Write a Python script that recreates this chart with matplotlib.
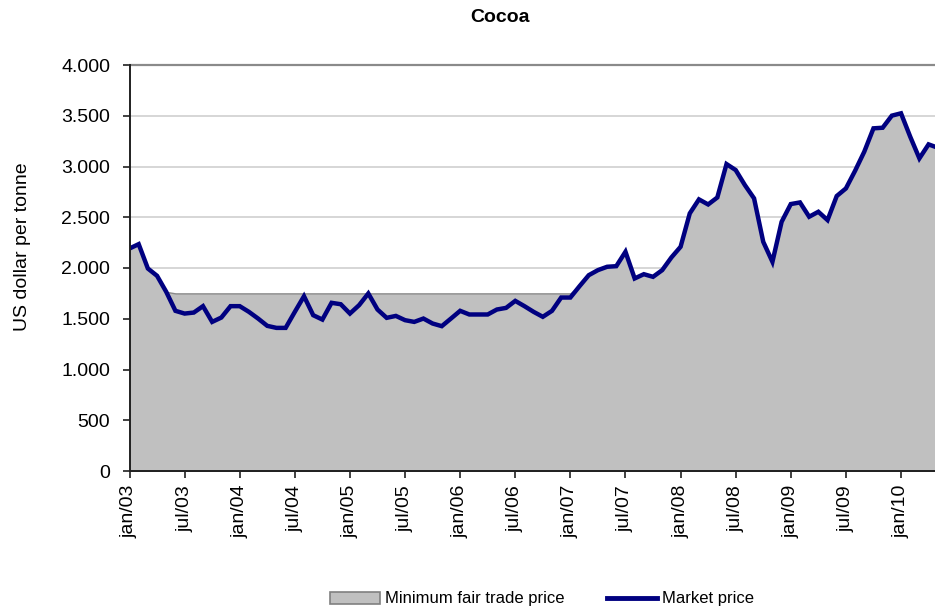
import numpy as np
import matplotlib
matplotlib.use("Agg")
import matplotlib.pyplot as plt
from matplotlib.ticker import FuncFormatter, FixedLocator, MultipleLocator
from matplotlib.patches import Patch
from matplotlib.lines import Line2D

plt.rcParams['font.family'] = ['Liberation Sans', 'DejaVu Sans']

# Monthly cocoa market price, US dollar per tonne, jan/03 .. may/10
market_price = [
    2192, 2235, 1995, 1923, 1765, 1578, 1551, 1561, 1624, 1469, 1512, 1624,  # 2003
    1624, 1568, 1502, 1430, 1410, 1410, 1568, 1722, 1535, 1492, 1657, 1643,  # 2004
    1551, 1634, 1749, 1591, 1509, 1528, 1486, 1469, 1502, 1453, 1427, 1502,  # 2005
    1578, 1542, 1542, 1542, 1591, 1607, 1676, 1624, 1568, 1519, 1578, 1709,  # 2006
    1709, 1821, 1929, 1979, 2012, 2018, 2160, 1897, 1939, 1913, 1979, 2104,  # 2007
    2209, 2538, 2676, 2626, 2695, 3024, 2965, 2817, 2686, 2258, 2061, 2455,  # 2008
    2630, 2646, 2505, 2554, 2472, 2709, 2784, 2958, 3146, 3376, 3382, 3501,  # 2009
    3524, 3294, 3080, 3218, 3185,                                            # 2010
]

# Fair trade floor price (minimum price incl. premium)
fair_trade_floor = 1750

tick_labels = ["jan/03", "jul/03", "jan/04", "jul/04", "jan/05", "jul/05",
               "jan/06", "jul/06", "jan/07", "jul/07", "jan/08", "jul/08",
               "jan/09", "jul/09", "jan/10"]

market = np.array(market_price, dtype=float)
months = np.arange(len(market))
fair_trade = np.maximum(market, fair_trade_floor)

fig = plt.figure(figsize=(9.35, 6.11), dpi=100)
ax = fig.add_axes([129.5 / 935, 1 - 471 / 611, 1 - 129.5 / 935, (471 - 65) / 611])

fill_color = "#c0c0c0"
line_color = "#000080"

ax.fill_between(months, 0, fair_trade, facecolor=fill_color,
                edgecolor="#8a8a8a", linewidth=1.0, zorder=2)
ax.plot(months, market, color=line_color, linewidth=3.2,
        solid_joinstyle="miter", zorder=3)

ax.set_xlim(0, 87.7)
ax.set_ylim(0, 4000)

ax.yaxis.set_major_locator(MultipleLocator(500))
ax.yaxis.set_major_formatter(FuncFormatter(lambda v, p: f"{int(v):,}".replace(",", ".")))
ax.grid(axis="y", color="#cfcfcf", linewidth=1.2, zorder=1)
ax.set_axisbelow(True)

ax.xaxis.set_major_locator(FixedLocator(np.arange(0, 6 * len(tick_labels), 6)))
ax.set_xticklabels(tick_labels, rotation=90, va="top", ha="center")

ax.tick_params(axis="both", direction="out", length=5, width=1.2,
               color="#202020", labelsize=14, labelcolor="black")
ax.tick_params(axis="y", pad=9)
ax.tick_params(axis="x", pad=5)

for side in ("left", "bottom"):
    ax.spines[side].set_color("#202020")
    ax.spines[side].set_linewidth(1.4)
    ax.spines[side].set_zorder(4)
ax.spines["top"].set_color("#8a8a8a")
ax.spines["top"].set_linewidth(1.6)
ax.spines["right"].set_visible(False)

fig.text(23 / 935, 1 - 247 / 611, "US dollar per tonne", rotation=90,
         ha="center", va="center", fontsize=14)
fig.text(500 / 935, 1 - 18 / 611, "Cocoa", ha="center", va="center",
         fontsize=14, fontweight="bold")

handles = [
    Patch(facecolor=fill_color, edgecolor="#808080", linewidth=1.2),
    Line2D([0], [0], color=line_color, linewidth=3.5),
]
fig.legend(handles, ["Minimum fair trade price", "Market price"],
           loc="center", bbox_to_anchor=(542 / 935, 1 - 599 / 611),
           ncol=2, frameon=False, fontsize=12, handlelength=3.0,
           handletextpad=0.25, columnspacing=2.6, borderaxespad=0)

fig.savefig("out.png", dpi=100)
